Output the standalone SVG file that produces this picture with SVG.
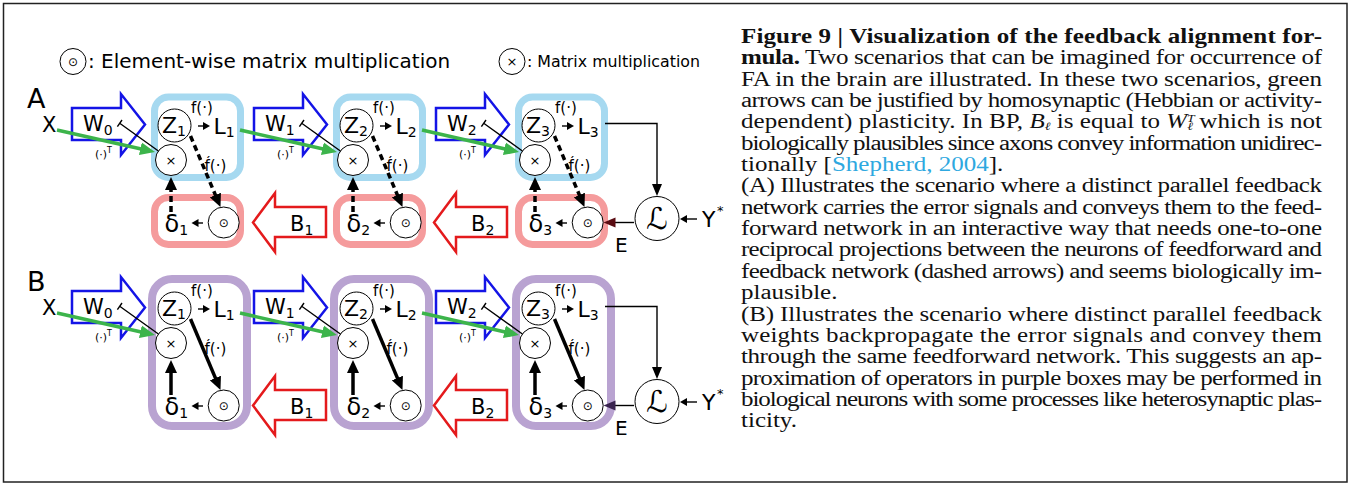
<svg xmlns="http://www.w3.org/2000/svg" width="1351" height="484" viewBox="0 0 1351 484">
  <style>
    .sans{font-family:"DejaVu Sans","Liberation Sans",sans-serif;fill:#000}
    .cap{font-family:"Liberation Serif","Times New Roman",serif;font-size:20px;fill:#111}
    .node{fill:#fff;stroke:#000;stroke-width:1}
    .warrow{fill:#fff;stroke:#1414e6;stroke-width:2.5;stroke-linejoin:miter}
    .barrow{fill:#fff;stroke:#e41a1c;stroke-width:2.5;stroke-linejoin:miter}
    .box-ff{fill:none;stroke:#a6d9f0;stroke-width:7}
    .box-fb{fill:none;stroke:#f59b9c;stroke-width:7}
    .box-b{fill:none;stroke:#b9a3d1;stroke-width:8}
    .thick{stroke:#000;stroke-width:3.5;fill:none}
    .dash{stroke-dasharray:6 4}
    .thin{stroke:#000;stroke-width:1.4;fill:none}
    .green{stroke:#3cb44b;stroke-width:3.5;fill:none}
    .lbl{font-size:15px}
    .var{font-size:22px}
    .sub{font-size:14px}
  </style>
  <defs>
    <marker id="hThick" markerUnits="userSpaceOnUse" markerWidth="14" markerHeight="13" viewBox="0 -6.5 14 13" refX="2" refY="0" orient="auto"><path d="M0,-6 L13,0 L0,6z" fill="#000"/></marker>
    <marker id="hThin" markerUnits="userSpaceOnUse" markerWidth="13" markerHeight="11" viewBox="0 -5.5 13 11" refX="1" refY="0" orient="auto"><path d="M0,-5 L12,0 L0,5z" fill="#000"/></marker>
    <marker id="hErrA" markerUnits="userSpaceOnUse" markerWidth="13" markerHeight="11" viewBox="0 -5.5 13 11" refX="1" refY="0" orient="auto"><path d="M0,-5 L12,0 L0,5z" fill="#5a0c12"/></marker>
    <marker id="hErrB" markerUnits="userSpaceOnUse" markerWidth="13" markerHeight="11" viewBox="0 -5.5 13 11" refX="1" refY="0" orient="auto"><path d="M0,-5 L12,0 L0,5z" fill="#3a2450"/></marker>
    <marker id="hSmall" markerUnits="userSpaceOnUse" markerWidth="8" markerHeight="9" viewBox="0 -4.5 8 9" refX="1" refY="0" orient="auto"><path d="M0,-4 L7,0 L0,4z" fill="#000"/></marker>
    <marker id="hGreen" markerUnits="userSpaceOnUse" markerWidth="16" markerHeight="14" viewBox="0 -7 16 14" refX="2" refY="0" orient="auto"><path d="M0,-6.5 L15,0 L0,6.5z" fill="#3cb44b"/></marker>
  </defs>

  <rect x="0" y="0" width="1351" height="484" fill="#fff"/>
  <rect x="3.5" y="3.5" width="1343.5" height="478.5" fill="none" stroke="#222" stroke-width="1.5"/>

  <!-- legend -->
  <g id="legend">
    <g id="legend-hadamard">
      <circle class="node" cx="73" cy="61.5" r="13"/>
      <text class="sans" x="73" y="66" font-size="12" text-anchor="middle">⊙</text>
      <text class="sans" x="88" y="68" font-size="20">: Element-wise matrix multiplication</text>
    </g>
    <g id="legend-matmul">
      <circle class="node" cx="512" cy="61.5" r="13"/>
      <text class="sans" x="512" y="66" font-size="13" text-anchor="middle">×</text>
      <text class="sans" x="527" y="67" font-size="16.5" textLength="173" lengthAdjust="spacingAndGlyphs">: Matrix multiplication</text>
    </g>
  </g>

  <!-- ============ panel A: separate feedback network ============ -->
  <g id="panelA">
    <text id="label-A" class="sans" x="27" y="108" font-size="27">A</text>
    <text id="A-input-X" class="sans" x="42" y="132" font-size="21">X</text>

    <!-- layer 1 -->
    <g id="A-layer1">
      <rect id="A1-forward-box" class="box-ff" x="154.5" y="97" width="86" height="80.5" rx="14"/>
      <rect id="A1-feedback-box" class="box-fb" x="154.5" y="197.5" width="86" height="47" rx="14"/>
      <g id="A1-W"><polygon class="warrow" points="72,108 121,108 121,94 145,124.5 121,155 121,140 72,140"/>
        <text class="sans" x="83" y="131" font-size="21">W<tspan class="sub" dy="4">0</tspan></text>
        <text class="sans" x="95" y="158" font-size="11">(·)<tspan font-size="8" dy="-5">T</tspan></text></g>
      <g id="A1-Z"><circle class="node" cx="174.5" cy="125.5" r="16.5"/>
        <text class="sans var" x="162" y="133">Z<tspan class="sub" dy="3">1</tspan></text></g>
      <text class="sans lbl" x="191" y="113">f(·)</text>
      <g id="A1-L"><text class="sans var" x="213.5" y="133.5">L<tspan class="sub" dy="3">1</tspan></text></g>
      <g id="A1-mul"><circle class="node" cx="171" cy="160" r="15.5"/>
        <text class="sans" x="171" y="164.5" font-size="13" text-anchor="middle">×</text></g>
      <text class="sans lbl" x="204.5" y="170.5">f́(·)</text>
      <g id="A1-had"><circle class="node" cx="223.7" cy="222.5" r="15.5"/>
        <text class="sans" x="223.7" y="227" font-size="12" text-anchor="middle">⊙</text></g>
      <g id="A1-delta"><text class="sans" x="164.5" y="231.5" font-size="24">δ<tspan class="sub" dy="3">1</tspan></text></g>
    </g>

    <!-- layer 2 -->
    <g id="A-layer2" transform="translate(182 0)">
      <rect id="A2-forward-box" class="box-ff" x="154.5" y="97" width="86" height="80.5" rx="14"/>
      <rect id="A2-feedback-box" class="box-fb" x="154.5" y="197.5" width="86" height="47" rx="14"/>
      <g id="A2-W"><polygon class="warrow" points="72,108 121,108 121,94 145,124.5 121,155 121,140 72,140"/>
        <text class="sans" x="83" y="131" font-size="21">W<tspan class="sub" dy="4">1</tspan></text>
        <text class="sans" x="95" y="158" font-size="11">(·)<tspan font-size="8" dy="-5">T</tspan></text></g>
      <g id="A2-Z"><circle class="node" cx="174.5" cy="125.5" r="16.5"/>
        <text class="sans var" x="162" y="133">Z<tspan class="sub" dy="3">2</tspan></text></g>
      <text class="sans lbl" x="191" y="113">f(·)</text>
      <g id="A2-L"><text class="sans var" x="213.5" y="133.5">L<tspan class="sub" dy="3">2</tspan></text></g>
      <g id="A2-mul"><circle class="node" cx="171" cy="160" r="15.5"/>
        <text class="sans" x="171" y="164.5" font-size="13" text-anchor="middle">×</text></g>
      <text class="sans lbl" x="204.5" y="170.5">f́(·)</text>
      <g id="A2-had"><circle class="node" cx="223.7" cy="222.5" r="15.5"/>
        <text class="sans" x="223.7" y="227" font-size="12" text-anchor="middle">⊙</text></g>
      <g id="A2-delta"><text class="sans" x="164.5" y="231.5" font-size="24">δ<tspan class="sub" dy="3">2</tspan></text></g>
    </g>

    <!-- layer 3 -->
    <g id="A-layer3" transform="translate(364 0)">
      <rect id="A3-forward-box" class="box-ff" x="154.5" y="97" width="86" height="80.5" rx="14"/>
      <rect id="A3-feedback-box" class="box-fb" x="154.5" y="197.5" width="86" height="47" rx="14"/>
      <g id="A3-W"><polygon class="warrow" points="72,108 121,108 121,94 145,124.5 121,155 121,140 72,140"/>
        <text class="sans" x="83" y="131" font-size="21">W<tspan class="sub" dy="4">2</tspan></text>
        <text class="sans" x="95" y="158" font-size="11">(·)<tspan font-size="8" dy="-5">T</tspan></text></g>
      <g id="A3-Z"><circle class="node" cx="174.5" cy="125.5" r="16.5"/>
        <text class="sans var" x="162" y="133">Z<tspan class="sub" dy="3">3</tspan></text></g>
      <text class="sans lbl" x="191" y="113">f(·)</text>
      <g id="A3-L"><text class="sans var" x="213.5" y="133.5">L<tspan class="sub" dy="3">3</tspan></text></g>
      <g id="A3-mul"><circle class="node" cx="171" cy="160" r="15.5"/>
        <text class="sans" x="171" y="164.5" font-size="13" text-anchor="middle">×</text></g>
      <text class="sans lbl" x="204.5" y="170.5">f́(·)</text>
      <g id="A3-had"><circle class="node" cx="223.7" cy="222.5" r="15.5"/>
        <text class="sans" x="223.7" y="227" font-size="12" text-anchor="middle">⊙</text></g>
      <g id="A3-delta"><text class="sans" x="164.5" y="231.5" font-size="24">δ<tspan class="sub" dy="3">3</tspan></text></g>
    </g>

    <!-- feedback weights -->
    <g id="A-B1"><polygon class="barrow" points="253,222.5 275,193 275,207 326,207 326,237 275,237 275,252"/>
      <text class="sans" x="290" y="230.5" font-size="21">B<tspan class="sub" dy="4">1</tspan></text></g>
    <g id="A-B2" transform="translate(181 0)"><polygon class="barrow" points="253,222.5 275,193 275,207 326,207 326,237 275,237 275,252"/>
      <text class="sans" x="290" y="230.5" font-size="21">B<tspan class="sub" dy="4">2</tspan></text></g>

    <!-- loss -->
    <g id="A-loss"><circle class="node" cx="657" cy="218.5" r="22"/>
      <text class="sans" x="657" y="229" font-size="30" text-anchor="middle">ℒ</text></g>
    <g id="A-target"><text class="sans" x="702" y="227" font-size="22">Y</text>
      <text class="sans" x="717" y="215" font-size="13">*</text></g>
    <text id="A-error" class="sans" x="615" y="252" font-size="20">E</text>
  </g>

  <!-- ============ panel B: shared feedforward neurons ============ -->
  <g id="panelB">
    <text id="label-B" class="sans" x="27" y="291" font-size="27">B</text>
    <text id="B-input-X" class="sans" x="42" y="315" font-size="21">X</text>

    <g id="B-layer1" transform="translate(0 183)">
      <rect id="B1-box" class="box-b" x="152" y="96" width="95" height="147" rx="20"/>
      <g id="B1-W"><polygon class="warrow" points="72,108 121,108 121,94 145,124.5 121,155 121,140 72,140"/>
        <text class="sans" x="83" y="131" font-size="21">W<tspan class="sub" dy="4">0</tspan></text>
        <text class="sans" x="95" y="158" font-size="11">(·)<tspan font-size="8" dy="-5">T</tspan></text></g>
      <g id="B1-Z"><circle class="node" cx="174.5" cy="125.5" r="16.5"/>
        <text class="sans var" x="162" y="133">Z<tspan class="sub" dy="3">1</tspan></text></g>
      <text class="sans lbl" x="191" y="113">f(·)</text>
      <g id="B1-L"><text class="sans var" x="213.5" y="133.5">L<tspan class="sub" dy="3">1</tspan></text></g>
      <g id="B1-mul"><circle class="node" cx="171" cy="160" r="15.5"/>
        <text class="sans" x="171" y="164.5" font-size="13" text-anchor="middle">×</text></g>
      <text class="sans lbl" x="204.5" y="170.5">f́(·)</text>
      <g id="B1-had"><circle class="node" cx="223.7" cy="222.5" r="15.5"/>
        <text class="sans" x="223.7" y="227" font-size="12" text-anchor="middle">⊙</text></g>
      <g id="B1-delta"><text class="sans" x="164.5" y="231.5" font-size="24">δ<tspan class="sub" dy="3">1</tspan></text></g>
    </g>

    <g id="B-layer2" transform="translate(182 183)">
      <rect id="B2-box" class="box-b" x="152" y="96" width="95" height="147" rx="20"/>
      <g id="B2-W"><polygon class="warrow" points="72,108 121,108 121,94 145,124.5 121,155 121,140 72,140"/>
        <text class="sans" x="83" y="131" font-size="21">W<tspan class="sub" dy="4">1</tspan></text>
        <text class="sans" x="95" y="158" font-size="11">(·)<tspan font-size="8" dy="-5">T</tspan></text></g>
      <g id="B2-Z"><circle class="node" cx="174.5" cy="125.5" r="16.5"/>
        <text class="sans var" x="162" y="133">Z<tspan class="sub" dy="3">2</tspan></text></g>
      <text class="sans lbl" x="191" y="113">f(·)</text>
      <g id="B2-L"><text class="sans var" x="213.5" y="133.5">L<tspan class="sub" dy="3">2</tspan></text></g>
      <g id="B2-mul"><circle class="node" cx="171" cy="160" r="15.5"/>
        <text class="sans" x="171" y="164.5" font-size="13" text-anchor="middle">×</text></g>
      <text class="sans lbl" x="204.5" y="170.5">f́(·)</text>
      <g id="B2-had"><circle class="node" cx="223.7" cy="222.5" r="15.5"/>
        <text class="sans" x="223.7" y="227" font-size="12" text-anchor="middle">⊙</text></g>
      <g id="B2-delta"><text class="sans" x="164.5" y="231.5" font-size="24">δ<tspan class="sub" dy="3">2</tspan></text></g>
    </g>

    <g id="B-layer3" transform="translate(364 183)">
      <rect id="B3-box" class="box-b" x="152" y="96" width="95" height="147" rx="20"/>
      <g id="B3-W"><polygon class="warrow" points="72,108 121,108 121,94 145,124.5 121,155 121,140 72,140"/>
        <text class="sans" x="83" y="131" font-size="21">W<tspan class="sub" dy="4">2</tspan></text>
        <text class="sans" x="95" y="158" font-size="11">(·)<tspan font-size="8" dy="-5">T</tspan></text></g>
      <g id="B3-Z"><circle class="node" cx="174.5" cy="125.5" r="16.5"/>
        <text class="sans var" x="162" y="133">Z<tspan class="sub" dy="3">3</tspan></text></g>
      <text class="sans lbl" x="191" y="113">f(·)</text>
      <g id="B3-L"><text class="sans var" x="213.5" y="133.5">L<tspan class="sub" dy="3">3</tspan></text></g>
      <g id="B3-mul"><circle class="node" cx="171" cy="160" r="15.5"/>
        <text class="sans" x="171" y="164.5" font-size="13" text-anchor="middle">×</text></g>
      <text class="sans lbl" x="204.5" y="170.5">f́(·)</text>
      <g id="B3-had"><circle class="node" cx="223.7" cy="222.5" r="15.5"/>
        <text class="sans" x="223.7" y="227" font-size="12" text-anchor="middle">⊙</text></g>
      <g id="B3-delta"><text class="sans" x="164.5" y="231.5" font-size="24">δ<tspan class="sub" dy="3">3</tspan></text></g>
    </g>

    <g id="B-B1" transform="translate(0 183)"><polygon class="barrow" points="253,222.5 275,193 275,207 326,207 326,237 275,237 275,252"/>
      <text class="sans" x="290" y="230.5" font-size="21">B<tspan class="sub" dy="4">1</tspan></text></g>
    <g id="B-B2" transform="translate(181 183)"><polygon class="barrow" points="253,222.5 275,193 275,207 326,207 326,237 275,237 275,252"/>
      <text class="sans" x="290" y="230.5" font-size="21">B<tspan class="sub" dy="4">2</tspan></text></g>

    <g id="B-loss"><circle class="node" cx="657" cy="401.5" r="22"/>
      <text class="sans" x="657" y="412" font-size="30" text-anchor="middle">ℒ</text></g>
    <g id="B-target"><text class="sans" x="702" y="410" font-size="22">Y</text>
      <text class="sans" x="717" y="398" font-size="13">*</text></g>
    <text id="B-error" class="sans" x="615" y="435" font-size="20">E</text>
  </g>

  <!-- ============ connectors ============ -->
  <g id="connectors">
    <!-- panel A, per layer: T-bar weight tap, input arrow, activation, derivative (dashed), error up (dashed), local arrow -->
    <g id="conn-A1">
      <path class="thin" d="M119.7,123.3 L158.4,151 M122,120 L117.4,126.6" stroke-width="1.2"/>
      <line class="green" x1="57" y1="130" x2="142.3" y2="149.2" marker-end="url(#hGreen)"/>
      <line class="thin" x1="198" y1="126" x2="204" y2="126" marker-end="url(#hSmall)"/>
      <line class="thick dash" x1="190.5" y1="136" x2="216.2" y2="196.9" marker-end="url(#hThick)"/>
      <line class="thick dash" x1="171" y1="212" x2="171" y2="188" marker-end="url(#hThick)"/>
      <line class="thin" x1="203" y1="223" x2="197.5" y2="223" marker-end="url(#hSmall)"/>
    </g>
    <g id="conn-A2" transform="translate(182 0)">
      <path class="thin" d="M119.7,123.3 L158.4,151 M122,120 L117.4,126.6" stroke-width="1.2"/>
      <line class="green" x1="58" y1="130" x2="142.3" y2="149.2" marker-end="url(#hGreen)"/>
      <line class="thin" x1="198" y1="126" x2="204" y2="126" marker-end="url(#hSmall)"/>
      <line class="thick dash" x1="190.5" y1="136" x2="216.2" y2="196.9" marker-end="url(#hThick)"/>
      <line class="thick dash" x1="171" y1="212" x2="171" y2="188" marker-end="url(#hThick)"/>
      <line class="thin" x1="203" y1="223" x2="197.5" y2="223" marker-end="url(#hSmall)"/>
    </g>
    <g id="conn-A3" transform="translate(364 0)">
      <path class="thin" d="M119.7,123.3 L158.4,151 M122,120 L117.4,126.6" stroke-width="1.2"/>
      <line class="green" x1="58" y1="130" x2="142.3" y2="149.2" marker-end="url(#hGreen)"/>
      <line class="thin" x1="198" y1="126" x2="204" y2="126" marker-end="url(#hSmall)"/>
      <line class="thick dash" x1="190.5" y1="136" x2="216.2" y2="196.9" marker-end="url(#hThick)"/>
      <line class="thick dash" x1="171" y1="212" x2="171" y2="188" marker-end="url(#hThick)"/>
      <line class="thin" x1="203" y1="223" x2="197.5" y2="223" marker-end="url(#hSmall)"/>
    </g>
    <g id="conn-A-loss">
      <path class="thin" d="M605,123.5 H657 V185" marker-end="url(#hThin)"/>
      <line class="thin" x1="634" y1="222.5" x2="614.5" y2="222.5" marker-end="url(#hErrA)"/>
      <line class="thin" x1="697" y1="219" x2="686" y2="219" marker-end="url(#hSmall)"/>
    </g>

    <!-- panel B: same wiring, solid arrows inside the shared neuron -->
    <g id="conn-B1" transform="translate(0 183)">
      <path class="thin" d="M119.7,123.3 L158.4,151 M122,120 L117.4,126.6" stroke-width="1.2"/>
      <line class="green" x1="57" y1="130" x2="142.3" y2="149.2" marker-end="url(#hGreen)"/>
      <line class="thin" x1="198" y1="126" x2="204" y2="126" marker-end="url(#hSmall)"/>
      <line class="thick" x1="190.5" y1="136" x2="216.2" y2="196.9" marker-end="url(#hThick)"/>
      <line class="thick" x1="171" y1="212" x2="171" y2="188" marker-end="url(#hThick)"/>
      <line class="thin" x1="203" y1="223" x2="197.5" y2="223" marker-end="url(#hSmall)"/>
    </g>
    <g id="conn-B2" transform="translate(182 183)">
      <path class="thin" d="M119.7,123.3 L158.4,151 M122,120 L117.4,126.6" stroke-width="1.2"/>
      <line class="green" x1="58" y1="130" x2="142.3" y2="149.2" marker-end="url(#hGreen)"/>
      <line class="thin" x1="198" y1="126" x2="204" y2="126" marker-end="url(#hSmall)"/>
      <line class="thick" x1="190.5" y1="136" x2="216.2" y2="196.9" marker-end="url(#hThick)"/>
      <line class="thick" x1="171" y1="212" x2="171" y2="188" marker-end="url(#hThick)"/>
      <line class="thin" x1="203" y1="223" x2="197.5" y2="223" marker-end="url(#hSmall)"/>
    </g>
    <g id="conn-B3" transform="translate(364 183)">
      <path class="thin" d="M119.7,123.3 L158.4,151 M122,120 L117.4,126.6" stroke-width="1.2"/>
      <line class="green" x1="58" y1="130" x2="142.3" y2="149.2" marker-end="url(#hGreen)"/>
      <line class="thin" x1="198" y1="126" x2="204" y2="126" marker-end="url(#hSmall)"/>
      <line class="thick" x1="190.5" y1="136" x2="216.2" y2="196.9" marker-end="url(#hThick)"/>
      <line class="thick" x1="171" y1="212" x2="171" y2="188" marker-end="url(#hThick)"/>
      <line class="thin" x1="203" y1="223" x2="197.5" y2="223" marker-end="url(#hSmall)"/>
    </g>
    <g id="conn-B-loss" transform="translate(0 183)">
      <path class="thin" d="M605,123.5 H657 V185" marker-end="url(#hThin)"/>
      <line class="thin" x1="634" y1="222.5" x2="614.5" y2="222.5" marker-end="url(#hErrB)"/>
      <line class="thin" x1="697" y1="219" x2="686" y2="219" marker-end="url(#hSmall)"/>
    </g>
  </g>

  <!-- ============ caption ============ -->
  <g id="caption" class="cap" transform="translate(741 0) scale(1.25 1)">
    <text y="43" font-weight="bold" textLength="464.8" lengthAdjust="spacing">Figure 9 | Visualization of the feedback alignment for-</text>
    <text y="64.35" textLength="464.8" lengthAdjust="spacing"><tspan font-weight="bold">mula.</tspan> Two scenarios that can be imagined for occurrence of</text>
    <text y="85.7" textLength="464.8" lengthAdjust="spacing">FA in the brain are illustrated. In these two scenarios, green</text>
    <text y="107.05" textLength="464.8" lengthAdjust="spacing">arrows can be justified by homosynaptic (Hebbian or activity-</text>
    <text y="128.4" textLength="464.8" lengthAdjust="spacing">dependent) plasticity. In BP, <tspan font-style="italic">B</tspan><tspan font-style="italic" font-size="11" dy="2">ℓ</tspan><tspan dy="-2"> is equal to </tspan><tspan font-style="italic">W</tspan><tspan font-style="italic" font-size="11" dy="-6">T</tspan><tspan font-style="italic" font-size="11" dx="-6" dy="8">ℓ</tspan><tspan dy="-2"> which is not</tspan></text>
    <text y="149.75" textLength="464.8" lengthAdjust="spacing">biologically plausibles since axons convey information unidirec-</text>
    <text y="171.1">tionally [<tspan fill="#2ea8e0">Shepherd, 2004</tspan>].</text>
    <text y="192.45" textLength="464.8" lengthAdjust="spacing">(A) Illustrates the scenario where a distinct parallel feedback</text>
    <text y="213.8" textLength="464.8" lengthAdjust="spacing">network carries the error signals and conveys them to the feed-</text>
    <text y="235.15" textLength="464.8" lengthAdjust="spacing">forward network in an interactive way that needs one-to-one</text>
    <text y="256.5" textLength="464.8" lengthAdjust="spacing">reciprocal projections between the neurons of feedforward and</text>
    <text y="277.85" textLength="464.8" lengthAdjust="spacing">feedback network (dashed arrows) and seems biologically im-</text>
    <text y="299.2">plausible.</text>
    <text y="320.55" textLength="464.8" lengthAdjust="spacing">(B) Illustrates the scenario where distinct parallel feedback</text>
    <text y="341.9" textLength="464.8" lengthAdjust="spacing">weights backpropagate the error signals and convey them</text>
    <text y="363.25" textLength="464.8" lengthAdjust="spacing">through the same feedforward network. This suggests an ap-</text>
    <text y="384.6" textLength="464.8" lengthAdjust="spacing">proximation of operators in purple boxes may be performed in</text>
    <text y="405.95" textLength="464.8" lengthAdjust="spacing">biological neurons with some processes like heterosynaptic plas-</text>
    <text y="427.3">ticity.</text>
  </g>
</svg>
